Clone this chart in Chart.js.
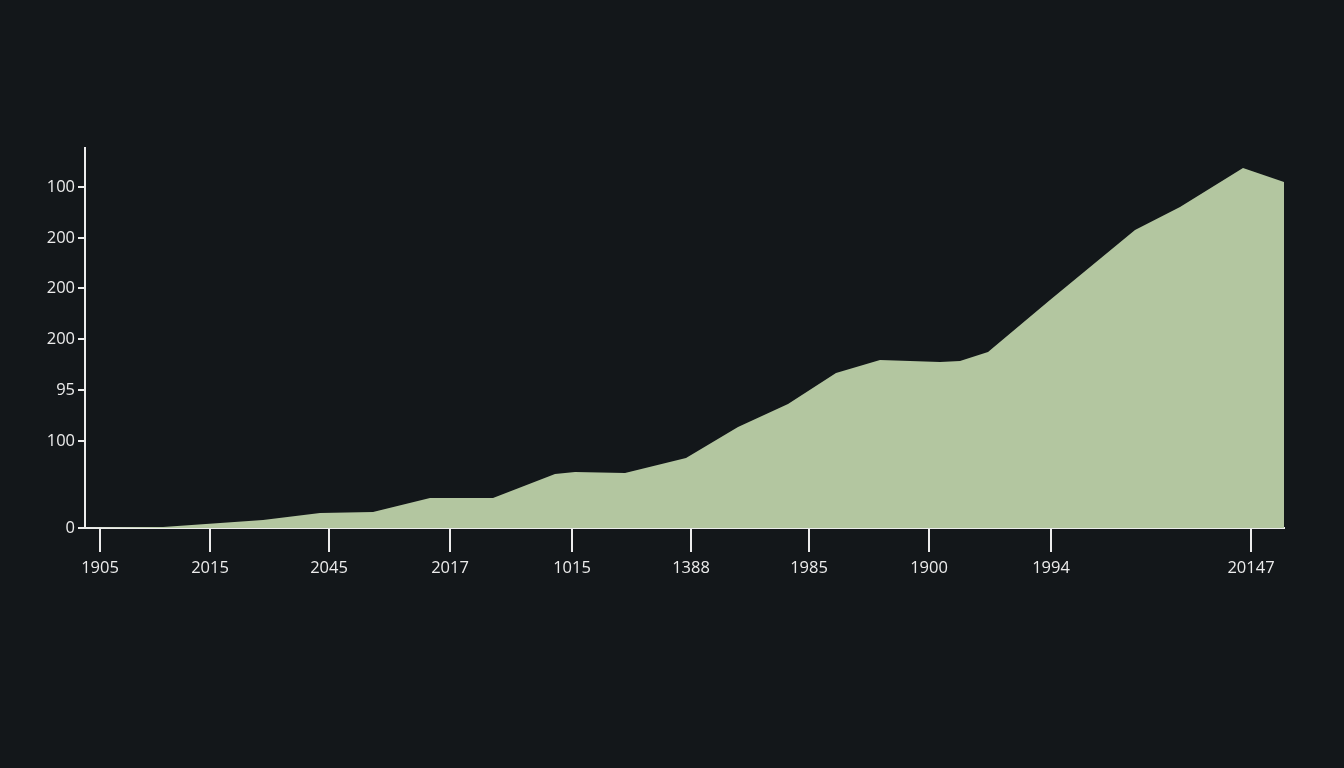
<!DOCTYPE html>
<html>
<head>
<meta charset="utf-8">
<script src="https://cdn.jsdelivr.net/npm/chart.js@4/dist/chart.umd.min.js"></script>
<style>
  html, body { margin: 0; padding: 0; background: #13171a; }
  #wrap { width: 1344px; height: 768px; }
</style>
</head>
<body>
<div id="wrap"><canvas id="area_chart"></canvas></div>
<script>
// values (x along the axis, y height above zero)
const xValues = [0, 78, 178, 235, 288, 345, 408, 470, 490, 540, 601, 653, 703, 751, 795, 855, 875, 903, 965, 1050, 1095, 1158, 1199];
const yValues = [0, 1, 8, 15, 16, 30, 30, 54, 56, 55, 70, 101, 124, 155, 168, 166, 167, 176, 228, 298, 321, 360, 346];

// tick labels as printed, and where they sit on each axis
const xTickLabels = ['1905', '2015', '2045', '2017', '1015', '1388', '1985', '1900', '1994', '20147'];
const xTickPos    = [15, 125, 244, 365, 487, 606, 724, 844, 966, 1166];
const yTickLabels = ['0', '100', '95', '200', '200', '200', '100'];
const yTickPos    = [0, 87, 138, 189, 240, 290, 341];

const axisColor = '#ececec';
const fillColor = '#b3c6a0';

function areaChart() {
  const ctx = document.getElementById('area_chart');

  const points = xValues.map(function(x, i) {
    return { x: x, y: yValues[i] };
  });

  new Chart(ctx, {
    type: 'line',
    data: {
      datasets: [{
        data: points,
        backgroundColor: fillColor,
        borderWidth: 0,
        pointRadius: 0,
        fill: 'origin',
        tension: 0
      }]
    },
    options: {
      responsive: true,
      maintainAspectRatio: false,
      animation: false,
      layout: { padding: { left: 0, right: 60, top: 148, bottom: 180 } },
      plugins: { legend: { display: false }, tooltip: { enabled: false } },
      scales: {
        x: {
          type: 'linear',
          min: 0,
          max: 1199,
          border: { color: axisColor, width: 2 },
          grid: { drawOnChartArea: false, drawTicks: true, tickLength: 24, color: axisColor, lineWidth: 2 },
          afterBuildTicks: function(axis) {
            axis.ticks = xTickPos.map(function(v) { return { value: v }; });
          },
          afterFit: function(axis) { axis.height = 60; },
          ticks: {
            autoSkip: false,
            maxRotation: 0,
            padding: 6,
            color: axisColor,
            font: { family: 'Open Sans', size: 16.5 },
            callback: function(value, index) { return xTickLabels[index]; }
          }
        },
        y: {
          min: 0,
          max: 380,
          border: { color: axisColor, width: 2 },
          grid: { drawOnChartArea: false, drawTicks: true, tickLength: 7, color: axisColor, lineWidth: 2 },
          afterBuildTicks: function(axis) {
            axis.ticks = yTickPos.map(function(v) { return { value: v }; });
          },
          afterFit: function(axis) { axis.width = 85; },
          ticks: {
            autoSkip: false,
            padding: 3,
            color: axisColor,
            font: { family: 'Open Sans', size: 16.5 },
            callback: function(value, index) { return yTickLabels[index]; }
          }
        }
      }
    }
  });
}

areaChart();
</script>
</body>
</html>
